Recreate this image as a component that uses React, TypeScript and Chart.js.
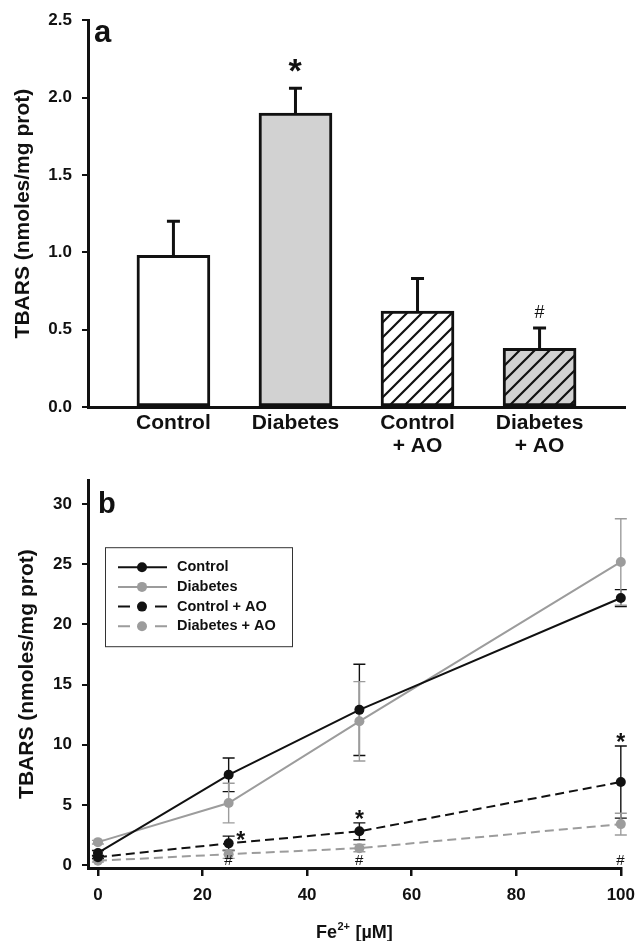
import React, { useEffect, useRef } from "react";
import { Chart, registerables } from "chart.js";

Chart.register(...registerables);

const FONT = "'Liberation Sans', Arial, Helvetica, sans-serif";
const INK = "#111111";
const GREY = "#9c9c9c";

// ---------- Panel a data ----------
const barCategories = [["Control"], ["Diabetes"], ["Control", "+ AO"], ["Diabetes", "+ AO"]];
const barValues = [0.98, 1.9, 0.62, 0.38];
const barErrors = [0.22, 0.16, 0.21, 0.13];
const barYTicks = [0, 0.5, 1.0, 1.5, 2.0, 2.5];
const barStarIndex = [1];
const barHashIndex = [3];

// ---------- Panel b data ----------
const feDoses = [0, 25, 50, 100];
const controlValues = [1.0, 7.5, 12.9, 22.2];
const controlErrors = [0.2, 1.4, 3.8, 0.7];
const diabetesValues = [1.9, 5.15, 11.95, 25.2];
const diabetesErrors = [0.15, 1.65, 3.3, 3.6];
const controlAOValues = [0.65, 1.8, 2.8, 6.9];
const controlAOErrors = [0.1, 0.6, 0.7, 3.0];
const diabetesAOValues = [0.35, 0.9, 1.4, 3.4];
const diabetesAOErrors = [0.1, 0.35, 0.3, 0.9];
const lineXTicks = [0, 20, 40, 60, 80, 100];
const lineYTicks = [0, 5, 10, 15, 20, 25, 30];
const lineStarIndex = [1, 2, 3]; // Control + AO vs Control
const lineHashIndex = [1, 2, 3]; // Diabetes + AO vs Diabetes

const lineSeries = [
  { label: "Control", values: controlValues, errors: controlErrors, color: INK, dash: [] as number[] },
  { label: "Diabetes", values: diabetesValues, errors: diabetesErrors, color: GREY, dash: [] as number[] },
  { label: "Control + AO", values: controlAOValues, errors: controlAOErrors, color: INK, dash: [9, 5] },
  { label: "Diabetes + AO", values: diabetesAOValues, errors: diabetesAOErrors, color: GREY, dash: [9, 5] },
];

function drawGlyph(ctx: CanvasRenderingContext2D, text: string, cx: number, cy: number) {
  ctx.textAlign = "left";
  ctx.textBaseline = "alphabetic";
  const m = ctx.measureText(text);
  const l = m.actualBoundingBoxLeft;
  const r = m.actualBoundingBoxRight;
  const a = m.actualBoundingBoxAscent;
  const d = m.actualBoundingBoxDescent;
  ctx.fillText(text, cx - (r - l) / 2, cy + (a - d) / 2);
}

function makeHatch(bg: string): CanvasPattern | string {
  const size = 15;
  const c = document.createElement("canvas");
  c.width = size;
  c.height = size;
  const g = c.getContext("2d");
  if (!g) return bg;
  g.fillStyle = bg;
  g.fillRect(0, 0, size, size);
  g.strokeStyle = INK;
  g.lineWidth = 2.2;
  g.beginPath();
  g.moveTo(-2, size + 2);
  g.lineTo(size + 2, -2);
  g.moveTo(-size / 2 - 2, size / 2 + 2);
  g.lineTo(size / 2 + 2, -size / 2 - 2);
  g.moveTo(size / 2 - 2, size * 1.5 + 2);
  g.lineTo(size * 1.5 + 2, size / 2 - 2);
  g.stroke();
  return g.createPattern(c, "repeat") || bg;
}

const barExtras = {
  id: "barExtras",
  afterDatasetsDraw(chart: any) {
    const { ctx, scales, chartArea } = chart;
    const x = scales.x;
    const y = scales.y;
    ctx.save();
    ctx.strokeStyle = INK;
    ctx.lineWidth = 3;
    barValues.forEach((v, i) => {
      const px = x.getPixelForValue(i);
      const y0 = y.getPixelForValue(v);
      const y1 = y.getPixelForValue(v + barErrors[i]);
      ctx.beginPath();
      ctx.moveTo(px, y0);
      ctx.lineTo(px, y1);
      ctx.moveTo(px - 6.5, y1);
      ctx.lineTo(px + 6.5, y1);
      ctx.stroke();
    });
    ctx.fillStyle = INK;
    ctx.font = `bold 34px ${FONT}`;
    barStarIndex.forEach((i) => {
      const px = x.getPixelForValue(i);
      const top = y.getPixelForValue(barValues[i] + barErrors[i]);
      drawGlyph(ctx, "*", px, top - 23);
    });
    ctx.font = `18px ${FONT}`;
    barHashIndex.forEach((i) => {
      const px = x.getPixelForValue(i);
      const top = y.getPixelForValue(barValues[i] + barErrors[i]);
      drawGlyph(ctx, "#", px, top - 17);
    });
    ctx.font = `bold 31px ${FONT}`;
    ctx.textAlign = "left";
    ctx.textBaseline = "alphabetic";
    ctx.fillText("a", chartArea.left + 6, chartArea.top + 22);
    ctx.restore();
  },
};

const lineExtras = {
  id: "lineExtras",
  beforeDatasetsDraw(chart: any) {
    const { ctx, scales } = chart;
    const x = scales.x;
    const y = scales.y;
    ctx.save();
    ctx.lineWidth = 1.4;
    lineSeries.forEach((s) => {
      ctx.strokeStyle = s.color;
      s.values.forEach((v, i) => {
        const e = s.errors[i];
        if (!e) return;
        const px = x.getPixelForValue(feDoses[i]);
        const yt = y.getPixelForValue(v + e);
        const yb = y.getPixelForValue(v - e);
        ctx.beginPath();
        ctx.moveTo(px, yt);
        ctx.lineTo(px, yb);
        ctx.moveTo(px - 6, yt);
        ctx.lineTo(px + 6, yt);
        ctx.moveTo(px - 6, yb);
        ctx.lineTo(px + 6, yb);
        ctx.stroke();
      });
    });
    ctx.restore();
  },
  afterDatasetsDraw(chart: any) {
    const { ctx, scales, chartArea } = chart;
    const x = scales.x;
    const y = scales.y;
    ctx.save();
    ctx.fillStyle = INK;
    // significance stars (Control + AO)
    ctx.font = `bold 23px ${FONT}`;
    lineStarIndex.forEach((i) => {
      const px = x.getPixelForValue(feDoses[i]);
      const top = y.getPixelForValue(controlAOValues[i] + controlAOErrors[i]);
      if (i === 1) drawGlyph(ctx, "*", px + 12, top - 1);
      else drawGlyph(ctx, "*", px, top - 8);
    });
    // hashes (Diabetes + AO)
    ctx.font = `15px ${FONT}`;
    lineHashIndex.forEach((i) => {
      const px = x.getPixelForValue(feDoses[i]);
      drawGlyph(ctx, "#", px, y.getPixelForValue(0) - 5);
    });
    // panel letter
    ctx.font = `bold 29px ${FONT}`;
    ctx.textAlign = "left";
    ctx.textBaseline = "alphabetic";
    ctx.fillText("b", chartArea.left + 10, chartArea.top + 33);

    // legend box
    const bx = chartArea.left + 17;
    const by = chartArea.top + 67;
    const bw = 187;
    const bh = 99;
    ctx.fillStyle = "#ffffff";
    ctx.fillRect(bx, by, bw, bh);
    ctx.strokeStyle = "#333333";
    ctx.lineWidth = 1;
    ctx.strokeRect(bx + 0.5, by + 0.5, bw, bh);
    chart.data.datasets.forEach((ds: any, i: number) => {
      const ry = by + 20 + i * 19.7;
      ctx.strokeStyle = ds.borderColor;
      ctx.lineWidth = 2;
      ctx.beginPath();
      if (ds.borderDash && ds.borderDash.length) {
        ctx.moveTo(bx + 13, ry);
        ctx.lineTo(bx + 25, ry);
        ctx.moveTo(bx + 50, ry);
        ctx.lineTo(bx + 62, ry);
      } else {
        ctx.moveTo(bx + 13, ry);
        ctx.lineTo(bx + 62, ry);
      }
      ctx.stroke();
      ctx.fillStyle = ds.borderColor;
      ctx.beginPath();
      ctx.arc(bx + 37, ry, 5, 0, Math.PI * 2);
      ctx.fill();
      ctx.fillStyle = INK;
      ctx.font = `bold 14.5px ${FONT}`;
      ctx.textAlign = "left";
      ctx.textBaseline = "middle";
      ctx.fillText(ds.label, bx + 72, ry);
    });
    ctx.restore();
  },
  afterDraw(chart: any) {
    const { ctx, scales } = chart;
    const x = scales.x;
    ctx.save();
    ctx.fillStyle = INK;
    ctx.textBaseline = "alphabetic";
    ctx.textAlign = "left";
    const big = `bold 18px ${FONT}`;
    const small = `bold 11px ${FONT}`;
    ctx.font = big;
    const w1 = ctx.measureText("Fe").width;
    const w3 = ctx.measureText(" [µM]").width;
    ctx.font = small;
    const w2 = ctx.measureText("2+").width + 1;
    const total = w1 + w2 + w3;
    const cx = (x.left + x.right) / 2;
    const base = chart.height - 3;
    let sx = cx - total / 2;
    ctx.font = big;
    ctx.fillText("Fe", sx, base);
    sx += w1;
    ctx.font = small;
    ctx.fillText("2+", sx + 0.5, base - 8);
    sx += w2;
    ctx.font = big;
    ctx.fillText(" [µM]", sx, base);
    ctx.restore();
  },
};

export default function App() {
  const aRef = useRef<HTMLCanvasElement>(null);
  const bRef = useRef<HTMLCanvasElement>(null);

  useEffect(() => {
    const hatchWhite = makeHatch("#ffffff");
    const hatchGrey = makeHatch("#d2d2d2");

    const chartA = new Chart(aRef.current as HTMLCanvasElement, {
      type: "bar",
      data: {
        datasets: [
          {
            data: barValues.map((v, i) => ({ x: i, y: v })),
            backgroundColor: ["#ffffff", "#d2d2d2", hatchWhite, hatchGrey] as any,
            borderColor: INK,
            borderWidth: 3,
            borderSkipped: false,
            barThickness: 73,
          } as any,
        ],
      },
      options: {
        animation: false,
        responsive: false,
        devicePixelRatio: 1,
        layout: { padding: { top: 20, right: 19, bottom: 0, left: 0 } },
        plugins: { legend: { display: false }, tooltip: { enabled: false } },
        scales: {
          x: {
            type: "linear",
            min: -0.7,
            max: 3.7,
            offset: false,
            afterBuildTicks: (s: any) => {
              s.ticks = barCategories.map((_, i) => ({ value: i }));
            },
            afterFit: (s: any) => {
              s.height = 53;
            },
            ticks: {
              autoSkip: false,
              maxRotation: 0,
              padding: 5,
              color: INK,
              font: { family: FONT, size: 21, weight: "bold", lineHeight: 1.1 },
              callback: (v: any) => barCategories[Math.round(Number(v))],
            },
            grid: { display: false, drawTicks: false, offset: false },
            border: { display: true, color: INK, width: 3 },
          } as any,
          y: {
            type: "linear",
            min: 0,
            max: 2.5,
            afterBuildTicks: (s: any) => {
              s.ticks = barYTicks.map((v) => ({ value: v }));
            },
            afterFit: (s: any) => {
              s.width = 88;
            },
            ticks: {
              padding: 10,
              color: INK,
              font: { family: FONT, size: 17, weight: "bold" },
              callback: (v: any) => Number(v).toFixed(1),
            },
            grid: { display: true, drawOnChartArea: false, drawTicks: true, tickLength: 6, color: INK, lineWidth: 2 },
            border: { display: true, color: INK, width: 3 },
            title: {
              display: true,
              text: "TBARS (nmoles/mg prot)",
              color: INK,
              font: { family: FONT, size: 21, weight: "bold" },
              padding: { top: 11, bottom: 0 },
            },
          } as any,
        },
      },
      plugins: [barExtras],
    });

    const chartB = new Chart(bRef.current as HTMLCanvasElement, {
      type: "line",
      data: {
        datasets: lineSeries.map((s) => ({
          label: s.label,
          data: feDoses.map((xv, i) => ({ x: xv, y: s.values[i] })),
          borderColor: s.color,
          backgroundColor: s.color,
          pointBackgroundColor: s.color,
          pointBorderColor: s.color,
          pointBorderWidth: 0,
          pointRadius: 5,
          borderWidth: 2,
          borderDash: s.dash,
          tension: 0,
          fill: false,
          clip: false,
        })) as any,
      },
      options: {
        animation: false,
        responsive: false,
        devicePixelRatio: 1,
        layout: { padding: { top: 20, right: 17, bottom: 0, left: 0 } },
        plugins: { legend: { display: false }, tooltip: { enabled: false } },
        scales: {
          x: {
            type: "linear",
            min: -1.9,
            max: 100,
            afterBuildTicks: (s: any) => {
              s.ticks = lineXTicks.map((v) => ({ value: v }));
            },
            afterFit: (s: any) => {
              s.height = 73;
            },
            ticks: {
              autoSkip: false,
              maxRotation: 0,
              padding: 9,
              color: INK,
              font: { family: FONT, size: 17, weight: "bold" },
              callback: (v: any) => String(v),
            },
            grid: { display: true, drawOnChartArea: false, drawTicks: true, tickLength: 8, color: INK, lineWidth: 2.5 },
            border: { display: true, color: INK, width: 3 },
          } as any,
          y: {
            type: "linear",
            min: -0.25,
            max: 32,
            afterBuildTicks: (s: any) => {
              s.ticks = lineYTicks.map((v) => ({ value: v }));
            },
            afterFit: (s: any) => {
              s.width = 88;
            },
            ticks: {
              padding: 10,
              color: INK,
              font: { family: FONT, size: 17, weight: "bold" },
              callback: (v: any) => String(v),
            },
            grid: { display: true, drawOnChartArea: false, drawTicks: true, tickLength: 6, color: INK, lineWidth: 2 },
            border: { display: true, color: INK, width: 3 },
            title: {
              display: true,
              text: "TBARS (nmoles/mg prot)",
              color: INK,
              font: { family: FONT, size: 21, weight: "bold" },
              padding: { top: 15, bottom: 0 },
            },
          } as any,
        },
      },
      plugins: [lineExtras],
    });

    return () => {
      chartA.destroy();
      chartB.destroy();
    };
  }, []);

  return (
    <div style={{ position: "absolute", left: 0, top: 0, width: 644, height: 941, background: "#ffffff" }}>
      <canvas ref={aRef} width={644} height={460} style={{ position: "absolute", left: 0, top: 0 }} />
      <canvas ref={bRef} width={644} height={481} style={{ position: "absolute", left: 0, top: 460 }} />
    </div>
  );
}
